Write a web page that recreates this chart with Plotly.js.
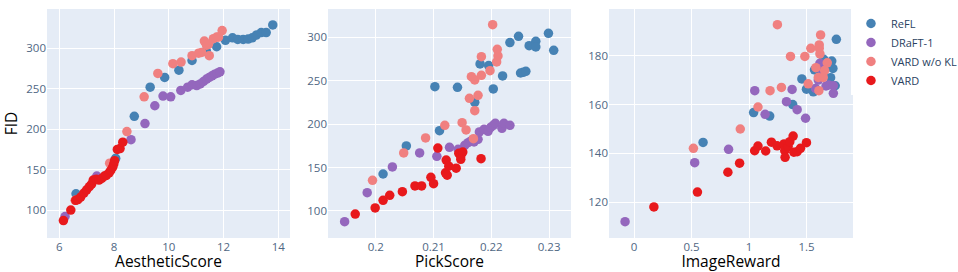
<!DOCTYPE html>
<html>
<head>
<meta charset="utf-8">
<script src="https://cdn.plot.ly/plotly-3.0.1.min.js"></script>
<style>html,body{margin:0;padding:0;background:#fff}#chart{width:958px;height:272px}</style>
</head>
<body>
<div id="chart"></div>
<script>
const methods = ["ReFL", "DRaFT-1", "VARD w/o KL", "VARD"];
const colors = ["#4682B4", "#9467BD", "#F08080", "#E8191C"];
const xTitles = ["AestheticScore", "PickScore", "ImageReward"];
const yTitle = "FID";

// ---- AestheticScore panel ----
const aesReflX = [6.61, 8.06, 8.74, 9.32, 9.85, 10.37, 10.85, 11.37, 11.75, 12.07, 12.33, 12.52, 12.72, 12.9, 13.05, 13.2, 13.38, 13.56, 13.8];
const aesReflY = [120, 164, 216, 252, 264, 273, 285, 297, 302, 310, 313, 311, 311, 311.5, 313, 316.5, 319.5, 319.5, 329];
const aesDraftX = [6.21, 7.37, 8.62, 9.13, 9.49, 9.79, 10.07, 10.44, 10.69, 10.85, 11.02, 11.15, 11.27, 11.38, 11.48, 11.58, 11.68, 11.78, 11.87];
const aesDraftY = [92, 142, 187, 207, 229, 241, 240, 248, 252, 255, 254, 256, 259, 262, 264, 266, 268, 269.5, 271];
const aesNoKlX = [6.58, 7.84, 8.47, 9.1, 9.6, 10.15, 10.45, 10.85, 11.09, 11.2, 11.3, 11.38, 11.45, 11.48, 11.63, 11.75, 11.82, 11.95];
const aesNoKlY = [112, 158, 197, 240, 269, 281, 283, 291, 294, 295, 309, 304, 305, 291, 312, 314, 314, 322];
const aesVardX = [6.15, 6.42, 6.6, 6.68, 6.78, 6.9, 7.0, 7.1, 7.18, 7.24, 7.35, 7.45, 7.55, 7.65, 7.72, 7.82, 7.88, 7.95, 7.99, 8.02, 8.12, 8.22, 8.32];
const aesVardY = [87, 100, 112, 113, 116, 121, 125, 129, 132, 137, 138, 137, 139, 142, 143, 146, 149, 153, 157, 161, 175, 176, 184];

// ---- PickScore panel ----
const pickReflX = [0.20126, 0.20529, 0.21023, 0.21103, 0.21414, 0.21713, 0.21805, 0.21954, 0.22034, 0.22195, 0.22322, 0.22471, 0.22506, 0.22552, 0.22598, 0.22655, 0.2277, 0.2277, 0.22989, 0.2308];
const pickReflY = [142.6, 174.9, 243.2, 192.5, 242.4, 225.1, 269.3, 267.4, 240.5, 255.5, 293.9, 301.2, 258.9, 259.7, 260.8, 290.4, 295.4, 288.9, 304.6, 285];
const pickDraftX = [0.1946, 0.19851, 0.20287, 0.20759, 0.21057, 0.21276, 0.21425, 0.2154, 0.21598, 0.21655, 0.21701, 0.2177, 0.21793, 0.21874, 0.21943, 0.21989, 0.22034, 0.22069, 0.22184, 0.22218, 0.22322];
const pickDraftY = [87.7, 121.1, 150.7, 166.8, 163, 173.3, 171, 175.6, 178.7, 181, 179.5, 182.5, 191, 194.1, 191.7, 196.4, 198.7, 201, 195.2, 201, 198.7];
const pickNoKlX = [0.19943, 0.20483, 0.20862, 0.21195, 0.21494, 0.21563, 0.21621, 0.21655, 0.21713, 0.21713, 0.2169, 0.2177, 0.21828, 0.21828, 0.21977, 0.22023, 0.22092, 0.22115, 0.22103];
const pickNoKlY = [135.3, 166.8, 184.1, 198.7, 201.7, 193.3, 229.8, 254.7, 250.9, 215.5, 183.3, 233.2, 277.7, 256.2, 261.6, 314.6, 271.6, 278.5, 286.2];
const pickVardX = [0.19644, 0.19989, 0.20126, 0.20241, 0.2046, 0.20678, 0.20793, 0.20954, 0.21, 0.21074, 0.21219, 0.21207, 0.21236, 0.21264, 0.21391, 0.21437, 0.21471, 0.21506, 0.21471, 0.21822];
const pickVardY = [96.5, 103.5, 112.3, 118, 122.3, 128.8, 128.8, 138.8, 131.5, 172.5, 158.7, 144, 141.3, 151.6, 149.3, 166.4, 163.3, 167.9, 159.5, 160.2];

// ---- ImageReward panel ----
const irReflX = [0.6, 1.04, 1.18, 1.38, 1.46, 1.5, 1.56, 1.57, 1.61, 1.65, 1.68, 1.71, 1.72, 1.73, 1.75, 1.76];
const irReflY = [144.5, 156.7, 155.3, 160, 170.5, 166.3, 165.2, 174.2, 173, 178.5, 176, 171, 177.8, 174.8, 167.7, 186.7];
const irDraftX = [-0.079, 0.527, 0.822, 1.05, 1.14, 1.326, 1.375, 1.419, 1.492, 1.579, 1.603, 1.617, 1.632, 1.67, 1.693, 1.734, 1.734];
const irDraftY = [112.1, 136.2, 141.7, 165.7, 156, 161.2, 166.2, 157.9, 154.4, 166.6, 170, 176.9, 174.1, 167.6, 168, 167.7, 164.6];
const irNoKlX = [0.516, 0.924, 1.078, 1.183, 1.282, 1.361, 1.247, 1.486, 1.515, 1.538, 1.582, 1.608, 1.603, 1.611, 1.611, 1.617, 1.623, 1.646, 1.658, 1.681];
const irNoKlY = [142.1, 150, 159, 165.7, 167, 179.7, 192.7, 179.7, 168.5, 183, 175.1, 165.7, 171.1, 183, 184.4, 180.7, 188.5, 171.1, 173.9, 177.1];
const irVardX = [0.172, 0.551, 0.816, 0.918, 1.049, 1.078, 1.145, 1.195, 1.244, 1.305, 1.311, 1.314, 1.34, 1.355, 1.384, 1.39, 1.419, 1.448, 1.5];
const irVardY = [118.1, 124.2, 132.3, 136, 141.1, 143, 141, 144.6, 143.1, 143.9, 141.1, 138.4, 142.8, 144.8, 147.1, 140.5, 140.7, 142.1, 144.4];

const panels = [
  [[aesReflX, aesReflY], [aesDraftX, aesDraftY], [aesNoKlX, aesNoKlY], [aesVardX, aesVardY]],
  [[pickReflX, pickReflY], [pickDraftX, pickDraftY], [pickNoKlX, pickNoKlY], [pickVardX, pickVardY]],
  [[irReflX, irReflY], [irDraftX, irDraftY], [irNoKlX, irNoKlY], [irVardX, irVardY]]
];

const traces = [];
panels.forEach((panel, p) => {
  panel.forEach((xy, m) => {
    traces.push({
      type: "scatter", mode: "markers",
      x: xy[0], y: xy[1],
      name: methods[m], legendgroup: methods[m],
      showlegend: p === 0,
      xaxis: p === 0 ? "x" : "x" + (p + 1),
      yaxis: p === 0 ? "y" : "y" + (p + 1),
      marker: { color: colors[m], size: 9.5 }
    });
  });
});

const font = { family: '"Open Sans", verdana, arial, sans-serif', color: "#2a3f5f" };
const tickFont = { size: 11.5, color: "#506784" };
const titleFont = { size: 15.5, color: "#000" };
function xa(domain, range, dtick, title, anchor) {
  return { domain, range, dtick, anchor, gridcolor: "#fff", zeroline: false,
    tickfont: tickFont, title: { text: title, font: titleFont, standoff: 0 }, automargin: true };
}
function ya(range, dtick, anchor, title) {
  const o = { range, dtick, anchor, gridcolor: "#fff", zeroline: false, tickfont: tickFont, automargin: false };
  if (title) o.title = { text: title, font: titleFont };
  return o;
}

const layout = {
  width: 958, height: 272,
  margin: { l: 47, r: 105, t: 9, b: 34, autoexpand: false },
  paper_bgcolor: "#fff", plot_bgcolor: "#E5ECF6",
  font: font,
  showlegend: true,
  legend: { x: 0.9975, xanchor: "left", y: 1, font: { size: 11, color: "#2a3f5f" }, tracegroupgap: 0 },
  xaxis: xa([0, 0.3015], [5.55, 14.43], 2, xTitles[0], "y"),
  yaxis: ya([65.4, 348.7], 50, "x", yTitle),
  xaxis2: xa([0.3486, 0.6501], [0.19172, 0.23379], 0.01, xTitles[1], "y2"),
  yaxis2: ya([68.9, 332.6], 50, "x2"),
  xaxis3: xa([0.6973, 1], [-0.2185, 1.905], 0.5, xTitles[2], "y3"),
  yaxis3: ya([105.4, 199.1], 20, "x3")
};

Plotly.newPlot("chart", traces, layout, { displayModeBar: false, staticPlot: true });
</script>
</body>
</html>
